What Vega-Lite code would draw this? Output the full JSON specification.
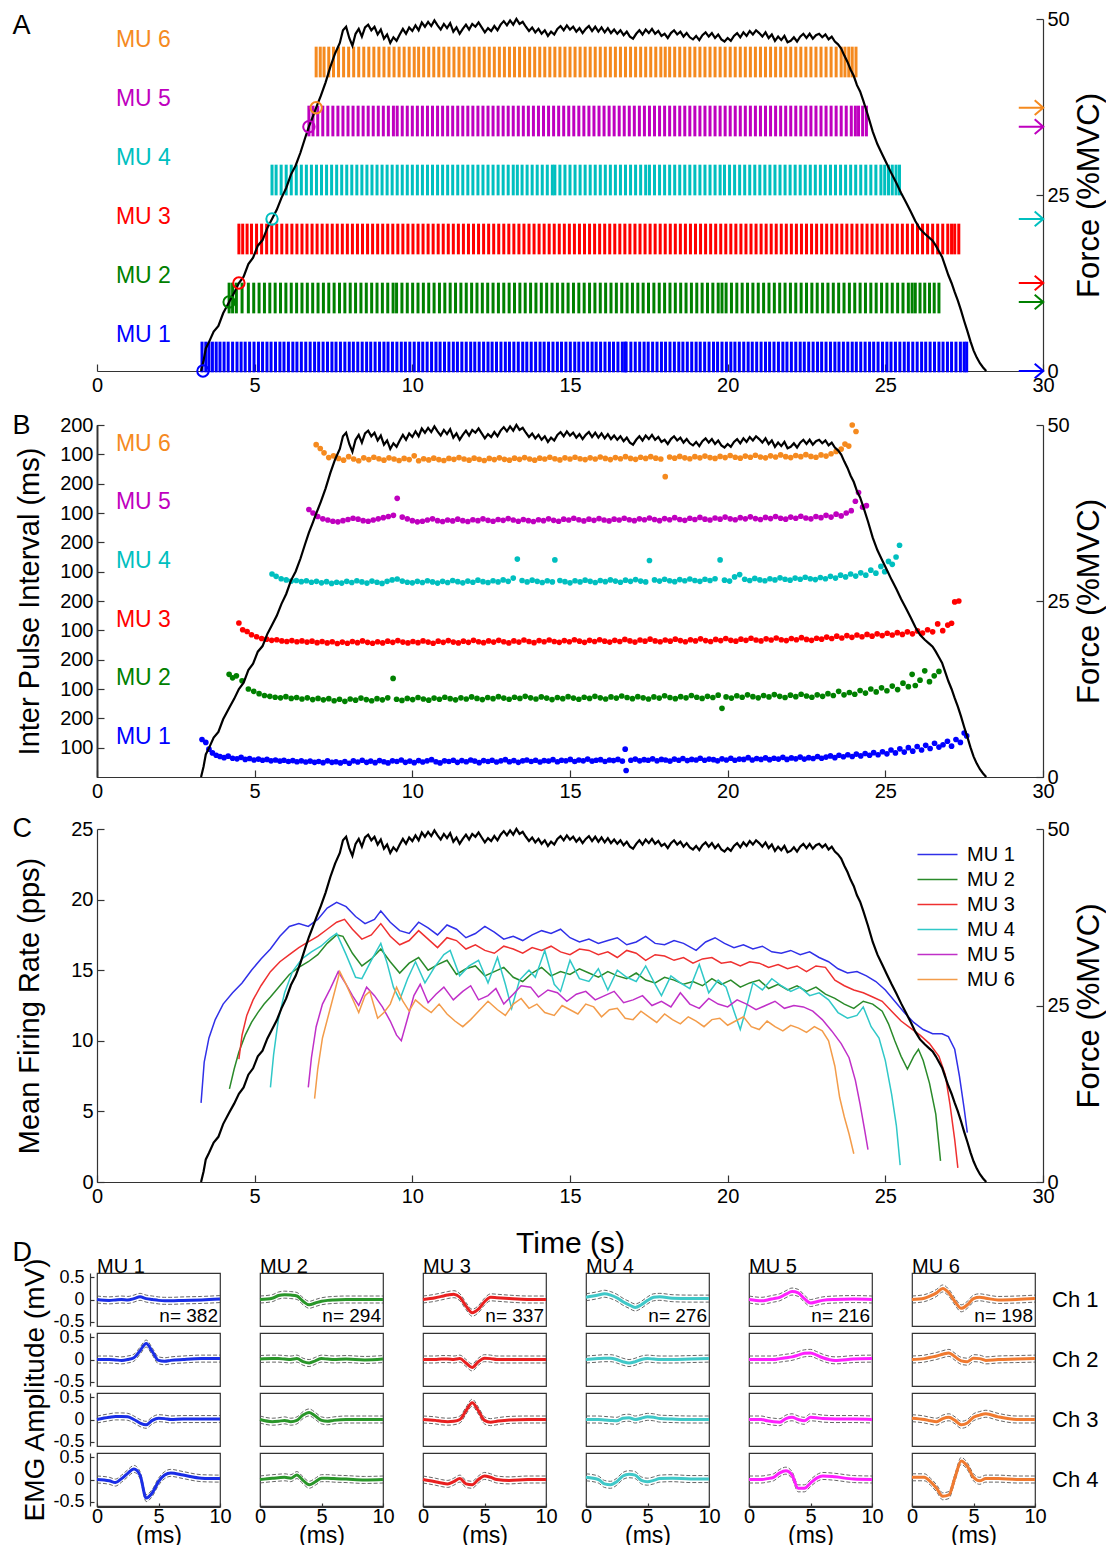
{
"$schema":"https://vega.github.io/schema/vega-lite/v6.json",
"padding":{"left":12,"top":9,"right":2,"bottom":5},
"config":{"font":"Liberation Sans","view":{"stroke":null},
"axis":{"labelFontSize":20,"titleFontSize":29,"titleFontWeight":"normal","labelColor":"#000","titleColor":"#000","domainColor":"#333","tickColor":"#333","domainWidth":1.2,"tickWidth":1.2,"tickSize":-7,"labelPadding":11,"grid":false,"labelFlush":false,"labelOverlap":false},
"legend":{"labelFontSize":20,"labelColor":"#000"},
"header":{"labelColor":"#000","titleColor":"#000"}},
"datasets":{
"force":[{"t":3.3,"f":0},{"t":3.38,"f":1.5},{"t":3.45,"f":3.2},{"t":3.55,"f":4.1},{"t":3.7,"f":5.6},{"t":3.85,"f":6.4},{"t":4.0,"f":8.2},{"t":4.19,"f":9.8},{"t":4.35,"f":11.1},{"t":4.5,"f":12.5},{"t":4.65,"f":13.4},{"t":4.8,"f":15.2},{"t":4.95,"f":16.1},{"t":5.1,"f":17.8},{"t":5.25,"f":18.6},{"t":5.4,"f":20.3},{"t":5.55,"f":21.6},{"t":5.7,"f":22.9},{"t":5.85,"f":24.6},{"t":6.0,"f":26.0},{"t":6.15,"f":27.9},{"t":6.3,"f":29.2},{"t":6.45,"f":31.0},{"t":6.6,"f":33.1},{"t":6.72,"f":34.7},{"t":6.85,"f":36.2},{"t":6.95,"f":37.4},{"t":7.1,"f":39.1},{"t":7.25,"f":41.0},{"t":7.4,"f":43.2},{"t":7.55,"f":45.1},{"t":7.7,"f":46.6},{"t":7.8,"f":48.4},{"t":7.9,"f":48.9},{"t":8.0,"f":47.3},{"t":8.1,"f":46.2},{"t":8.2,"f":47.9},{"t":8.3,"f":48.6},{"t":8.4,"f":47.5},{"t":8.5,"f":48.8},{"t":8.6,"f":49.2},{"t":8.7,"f":48.4},{"t":8.8,"f":48.9},{"t":8.9,"f":47.8},{"t":9.0,"f":48.5},{"t":9.1,"f":47.2},{"t":9.2,"f":47.8},{"t":9.3,"f":46.6},{"t":9.4,"f":47.4},{"t":9.5,"f":46.9},{"t":9.6,"f":47.8},{"t":9.7,"f":48.6},{"t":9.8,"f":47.9},{"t":9.9,"f":48.8},{"t":10.0,"f":48.3},{"t":10.1,"f":49.1},{"t":10.2,"f":48.4},{"t":10.3,"f":49.5},{"t":10.4,"f":48.9},{"t":10.5,"f":49.6},{"t":10.6,"f":49.0},{"t":10.7,"f":49.8},{"t":10.8,"f":49.1},{"t":10.9,"f":48.5},{"t":11.0,"f":49.3},{"t":11.1,"f":48.7},{"t":11.2,"f":49.4},{"t":11.3,"f":48.2},{"t":11.4,"f":48.8},{"t":11.5,"f":47.9},{"t":11.6,"f":48.6},{"t":11.7,"f":49.2},{"t":11.8,"f":48.5},{"t":11.9,"f":49.3},{"t":12.0,"f":48.9},{"t":12.1,"f":49.5},{"t":12.2,"f":48.8},{"t":12.3,"f":48.1},{"t":12.4,"f":48.7},{"t":12.5,"f":48.3},{"t":12.6,"f":49.0},{"t":12.7,"f":48.4},{"t":12.8,"f":49.2},{"t":12.9,"f":49.7},{"t":13.0,"f":49.1},{"t":13.1,"f":49.8},{"t":13.2,"f":49.2},{"t":13.3,"f":50.0},{"t":13.4,"f":49.3},{"t":13.5,"f":49.6},{"t":13.6,"f":48.9},{"t":13.7,"f":48.3},{"t":13.8,"f":48.8},{"t":13.9,"f":48.1},{"t":14.0,"f":48.6},{"t":14.1,"f":47.9},{"t":14.2,"f":48.4},{"t":14.3,"f":47.6},{"t":14.4,"f":48.2},{"t":14.5,"f":47.8},{"t":14.6,"f":48.6},{"t":14.7,"f":49.0},{"t":14.8,"f":48.4},{"t":14.9,"f":49.1},{"t":15.0,"f":48.5},{"t":15.1,"f":48.9},{"t":15.2,"f":48.2},{"t":15.3,"f":48.7},{"t":15.4,"f":48.0},{"t":15.5,"f":48.6},{"t":15.6,"f":49.0},{"t":15.7,"f":48.3},{"t":15.8,"f":48.9},{"t":15.9,"f":48.2},{"t":16.0,"f":48.8},{"t":16.1,"f":48.1},{"t":16.2,"f":48.7},{"t":16.3,"f":48.0},{"t":16.4,"f":48.5},{"t":16.5,"f":47.9},{"t":16.6,"f":48.4},{"t":16.7,"f":47.7},{"t":16.8,"f":48.2},{"t":16.9,"f":47.5},{"t":17.0,"f":47.2},{"t":17.1,"f":47.9},{"t":17.2,"f":48.4},{"t":17.3,"f":47.8},{"t":17.4,"f":48.5},{"t":17.5,"f":48.0},{"t":17.6,"f":48.6},{"t":17.7,"f":47.9},{"t":17.8,"f":48.3},{"t":17.9,"f":47.6},{"t":18.0,"f":47.9},{"t":18.1,"f":47.3},{"t":18.2,"f":48.0},{"t":18.3,"f":48.4},{"t":18.4,"f":47.8},{"t":18.5,"f":48.2},{"t":18.6,"f":47.5},{"t":18.7,"f":48.0},{"t":18.8,"f":47.4},{"t":18.9,"f":47.1},{"t":19.0,"f":47.6},{"t":19.1,"f":47.0},{"t":19.2,"f":47.7},{"t":19.3,"f":48.1},{"t":19.4,"f":47.5},{"t":19.5,"f":48.0},{"t":19.6,"f":47.3},{"t":19.7,"f":47.8},{"t":19.8,"f":47.1},{"t":19.9,"f":46.8},{"t":20.0,"f":47.3},{"t":20.1,"f":46.9},{"t":20.2,"f":47.6},{"t":20.3,"f":48.0},{"t":20.4,"f":47.4},{"t":20.5,"f":48.1},{"t":20.6,"f":47.6},{"t":20.7,"f":48.3},{"t":20.8,"f":47.8},{"t":20.9,"f":48.4},{"t":21.0,"f":48.0},{"t":21.1,"f":47.5},{"t":21.2,"f":48.1},{"t":21.3,"f":47.3},{"t":21.4,"f":47.8},{"t":21.5,"f":46.9},{"t":21.6,"f":47.5},{"t":21.7,"f":47.0},{"t":21.8,"f":47.6},{"t":21.9,"f":46.7},{"t":22.0,"f":46.9},{"t":22.1,"f":47.4},{"t":22.2,"f":46.8},{"t":22.3,"f":47.5},{"t":22.4,"f":47.9},{"t":22.5,"f":47.3},{"t":22.6,"f":47.9},{"t":22.7,"f":47.2},{"t":22.8,"f":47.7},{"t":22.9,"f":47.9},{"t":23.0,"f":47.4},{"t":23.1,"f":47.8},{"t":23.2,"f":47.1},{"t":23.3,"f":47.5},{"t":23.4,"f":46.8},{"t":23.5,"f":46.4},{"t":23.6,"f":45.8},{"t":23.7,"f":44.8},{"t":23.8,"f":43.9},{"t":23.9,"f":42.8},{"t":24.0,"f":41.9},{"t":24.1,"f":40.6},{"t":24.2,"f":39.7},{"t":24.3,"f":38.4},{"t":24.45,"f":36.3},{"t":24.6,"f":34.0},{"t":24.75,"f":32.2},{"t":24.9,"f":30.8},{"t":25.05,"f":29.4},{"t":25.2,"f":28.0},{"t":25.35,"f":26.7},{"t":25.5,"f":25.3},{"t":25.65,"f":24.0},{"t":25.8,"f":22.7},{"t":25.95,"f":21.3},{"t":26.1,"f":20.2},{"t":26.25,"f":19.5},{"t":26.4,"f":18.9},{"t":26.5,"f":18.5},{"t":26.6,"f":17.8},{"t":26.7,"f":17.0},{"t":26.8,"f":16.2},{"t":26.9,"f":14.9},{"t":27.0,"f":13.6},{"t":27.1,"f":12.5},{"t":27.2,"f":11.2},{"t":27.3,"f":10.0},{"t":27.4,"f":8.6},{"t":27.5,"f":7.1},{"t":27.6,"f":5.7},{"t":27.7,"f":4.2},{"t":27.8,"f":2.9},{"t":27.9,"f":1.9},{"t":28.0,"f":1.1},{"t":28.1,"f":0.5},{"t":28.2,"f":0}],
"rec":[{"m":"MU 1","t":3.36,"f":0},{"m":"MU 2","t":4.19,"f":9.8},{"m":"MU 3","t":4.5,"f":12.5},{"m":"MU 4","t":5.55,"f":21.6},{"m":"MU 5","t":6.72,"f":34.7},{"m":"MU 6","t":6.95,"f":37.4}],
"s1":[{"t":3.33,"i":128},{"t":3.45,"i":118},{"t":3.55,"i":95},{"t":3.66,"i":82},{"t":3.78,"i":74},{"t":3.9,"i":70},{"t":4.03,"i":66},{"t":4.16,"i":71},{"t":4.3,"i":64},{"t":4.44,"i":62},{"t":4.57,"i":67},{"t":4.7,"i":60},{"t":4.84,"i":63},{"t":4.98,"i":58},{"t":5.12,"i":61},{"t":5.25,"i":57},{"t":5.39,"i":60},{"t":5.52,"i":55},{"t":5.66,"i":58},{"t":5.8,"i":54},{"t":5.93,"i":57},{"t":6.07,"i":53},{"t":6.21,"i":56},{"t":6.34,"i":52},{"t":6.48,"i":55},{"t":6.62,"i":51},{"t":6.76,"i":54},{"t":6.9,"i":50},{"t":7.03,"i":53},{"t":7.17,"i":49},{"t":7.31,"i":55},{"t":7.45,"i":50},{"t":7.58,"i":52},{"t":7.72,"i":48},{"t":7.86,"i":53},{"t":8.0,"i":47},{"t":8.13,"i":55},{"t":8.27,"i":51},{"t":8.41,"i":57},{"t":8.55,"i":50},{"t":8.68,"i":54},{"t":8.82,"i":49},{"t":8.96,"i":56},{"t":9.1,"i":52},{"t":9.23,"i":48},{"t":9.37,"i":55},{"t":9.51,"i":53},{"t":9.65,"i":58},{"t":9.78,"i":50},{"t":9.92,"i":54},{"t":10.06,"i":49},{"t":10.2,"i":56},{"t":10.33,"i":51},{"t":10.47,"i":55},{"t":10.61,"i":59},{"t":10.75,"i":52},{"t":10.88,"i":48},{"t":11.02,"i":55},{"t":11.16,"i":53},{"t":11.3,"i":57},{"t":11.43,"i":50},{"t":11.57,"i":56},{"t":11.71,"i":52},{"t":11.85,"i":58},{"t":11.98,"i":54},{"t":12.12,"i":49},{"t":12.26,"i":56},{"t":12.4,"i":53},{"t":12.53,"i":57},{"t":12.67,"i":51},{"t":12.81,"i":55},{"t":12.95,"i":59},{"t":13.08,"i":52},{"t":13.22,"i":56},{"t":13.36,"i":50},{"t":13.5,"i":55},{"t":13.63,"i":58},{"t":13.77,"i":53},{"t":13.91,"i":57},{"t":14.05,"i":51},{"t":14.18,"i":56},{"t":14.32,"i":54},{"t":14.46,"i":59},{"t":14.6,"i":52},{"t":14.73,"i":57},{"t":14.87,"i":55},{"t":15.01,"i":60},{"t":15.15,"i":53},{"t":15.28,"i":58},{"t":15.42,"i":55},{"t":15.56,"i":61},{"t":15.7,"i":54},{"t":15.83,"i":57},{"t":15.97,"i":59},{"t":16.11,"i":53},{"t":16.25,"i":58},{"t":16.38,"i":56},{"t":16.52,"i":60},{"t":16.66,"i":54},{"t":16.75,"i":95},{"t":16.78,"i":22},{"t":16.93,"i":57},{"t":17.07,"i":61},{"t":17.21,"i":55},{"t":17.35,"i":59},{"t":17.48,"i":57},{"t":17.62,"i":62},{"t":17.76,"i":55},{"t":17.9,"i":60},{"t":18.03,"i":58},{"t":18.17,"i":54},{"t":18.31,"i":61},{"t":18.45,"i":57},{"t":18.58,"i":63},{"t":18.72,"i":56},{"t":18.86,"i":60},{"t":19.0,"i":58},{"t":19.13,"i":64},{"t":19.27,"i":57},{"t":19.41,"i":61},{"t":19.55,"i":59},{"t":19.68,"i":55},{"t":19.82,"i":62},{"t":19.96,"i":58},{"t":20.1,"i":64},{"t":20.23,"i":57},{"t":20.37,"i":61},{"t":20.51,"i":60},{"t":20.65,"i":66},{"t":20.78,"i":58},{"t":20.92,"i":63},{"t":21.06,"i":60},{"t":21.2,"i":65},{"t":21.33,"i":59},{"t":21.47,"i":64},{"t":21.61,"i":61},{"t":21.75,"i":67},{"t":21.88,"i":60},{"t":22.02,"i":65},{"t":22.16,"i":62},{"t":22.3,"i":68},{"t":22.43,"i":61},{"t":22.57,"i":66},{"t":22.71,"i":63},{"t":22.85,"i":70},{"t":22.98,"i":64},{"t":23.12,"i":68},{"t":23.26,"i":72},{"t":23.4,"i":66},{"t":23.53,"i":74},{"t":23.67,"i":69},{"t":23.81,"i":76},{"t":23.95,"i":70},{"t":24.08,"i":78},{"t":24.22,"i":72},{"t":24.36,"i":80},{"t":24.5,"i":74},{"t":24.63,"i":83},{"t":24.77,"i":76},{"t":24.91,"i":86},{"t":25.05,"i":79},{"t":25.18,"i":92},{"t":25.32,"i":82},{"t":25.46,"i":96},{"t":25.6,"i":85},{"t":25.73,"i":100},{"t":25.87,"i":88},{"t":26.01,"i":104},{"t":26.15,"i":92},{"t":26.28,"i":108},{"t":26.42,"i":97},{"t":26.56,"i":115},{"t":26.7,"i":102},{"t":26.83,"i":110},{"t":26.97,"i":122},{"t":27.1,"i":105},{"t":27.24,"i":128},{"t":27.38,"i":118},{"t":27.5,"i":150},{"t":27.58,"i":140}],
"s2":[{"t":4.19,"i":150},{"t":4.3,"i":138},{"t":4.42,"i":145},{"t":4.6,"i":128},{"t":4.8,"i":100},{"t":4.97,"i":92},{"t":5.14,"i":84},{"t":5.31,"i":78},{"t":5.48,"i":75},{"t":5.65,"i":72},{"t":5.82,"i":70},{"t":5.99,"i":74},{"t":6.16,"i":68},{"t":6.33,"i":71},{"t":6.5,"i":66},{"t":6.67,"i":70},{"t":6.84,"i":64},{"t":7.01,"i":68},{"t":7.18,"i":63},{"t":7.35,"i":67},{"t":7.52,"i":60},{"t":7.69,"i":65},{"t":7.86,"i":58},{"t":8.03,"i":66},{"t":8.2,"i":62},{"t":8.37,"i":69},{"t":8.54,"i":64},{"t":8.71,"i":60},{"t":8.88,"i":67},{"t":9.05,"i":63},{"t":9.22,"i":70},{"t":9.39,"i":136},{"t":9.5,"i":65},{"t":9.67,"i":61},{"t":9.84,"i":68},{"t":10.01,"i":64},{"t":10.18,"i":71},{"t":10.35,"i":66},{"t":10.52,"i":62},{"t":10.69,"i":69},{"t":10.86,"i":65},{"t":11.03,"i":72},{"t":11.2,"i":67},{"t":11.37,"i":63},{"t":11.54,"i":70},{"t":11.71,"i":66},{"t":11.88,"i":73},{"t":12.05,"i":68},{"t":12.22,"i":64},{"t":12.39,"i":71},{"t":12.56,"i":67},{"t":12.73,"i":74},{"t":12.9,"i":69},{"t":13.07,"i":65},{"t":13.24,"i":72},{"t":13.41,"i":68},{"t":13.58,"i":75},{"t":13.75,"i":70},{"t":13.92,"i":66},{"t":14.09,"i":73},{"t":14.26,"i":69},{"t":14.43,"i":64},{"t":14.6,"i":71},{"t":14.77,"i":67},{"t":14.94,"i":74},{"t":15.11,"i":69},{"t":15.28,"i":65},{"t":15.45,"i":72},{"t":15.62,"i":68},{"t":15.79,"i":75},{"t":15.96,"i":70},{"t":16.13,"i":66},{"t":16.3,"i":73},{"t":16.47,"i":69},{"t":16.64,"i":76},{"t":16.81,"i":71},{"t":16.98,"i":67},{"t":17.15,"i":74},{"t":17.32,"i":70},{"t":17.49,"i":66},{"t":17.66,"i":73},{"t":17.83,"i":69},{"t":18.0,"i":77},{"t":18.17,"i":71},{"t":18.34,"i":67},{"t":18.51,"i":74},{"t":18.68,"i":70},{"t":18.85,"i":78},{"t":19.02,"i":72},{"t":19.19,"i":68},{"t":19.36,"i":75},{"t":19.53,"i":71},{"t":19.7,"i":79},{"t":19.82,"i":34},{"t":19.95,"i":73},{"t":20.12,"i":69},{"t":20.29,"i":77},{"t":20.46,"i":72},{"t":20.63,"i":80},{"t":20.8,"i":74},{"t":20.97,"i":70},{"t":21.14,"i":78},{"t":21.31,"i":73},{"t":21.48,"i":81},{"t":21.65,"i":75},{"t":21.82,"i":71},{"t":21.99,"i":79},{"t":22.16,"i":74},{"t":22.33,"i":82},{"t":22.5,"i":76},{"t":22.67,"i":72},{"t":22.84,"i":80},{"t":23.01,"i":75},{"t":23.18,"i":84},{"t":23.35,"i":78},{"t":23.52,"i":92},{"t":23.69,"i":80},{"t":23.86,"i":88},{"t":24.03,"i":82},{"t":24.2,"i":95},{"t":24.37,"i":86},{"t":24.54,"i":100},{"t":24.71,"i":90},{"t":24.88,"i":104},{"t":25.05,"i":94},{"t":25.22,"i":110},{"t":25.39,"i":98},{"t":25.56,"i":120},{"t":25.73,"i":108},{"t":25.85,"i":150},{"t":25.95,"i":112},{"t":26.1,"i":130},{"t":26.25,"i":162},{"t":26.4,"i":125},{"t":26.55,"i":145},{"t":26.7,"i":160}],
"s3":[{"t":4.5,"i":125},{"t":4.62,"i":102},{"t":4.76,"i":96},{"t":4.9,"i":85},{"t":5.06,"i":78},{"t":5.22,"i":72},{"t":5.38,"i":70},{"t":5.54,"i":66},{"t":5.7,"i":68},{"t":5.86,"i":64},{"t":6.02,"i":62},{"t":6.18,"i":65},{"t":6.34,"i":61},{"t":6.5,"i":64},{"t":6.66,"i":60},{"t":6.82,"i":63},{"t":6.98,"i":58},{"t":7.14,"i":62},{"t":7.3,"i":57},{"t":7.46,"i":61},{"t":7.62,"i":55},{"t":7.78,"i":60},{"t":7.94,"i":56},{"t":8.1,"i":62},{"t":8.26,"i":58},{"t":8.42,"i":64},{"t":8.58,"i":59},{"t":8.74,"i":56},{"t":8.9,"i":61},{"t":9.06,"i":57},{"t":9.22,"i":63},{"t":9.38,"i":59},{"t":9.54,"i":65},{"t":9.7,"i":60},{"t":9.86,"i":57},{"t":10.02,"i":62},{"t":10.18,"i":58},{"t":10.34,"i":64},{"t":10.5,"i":60},{"t":10.66,"i":56},{"t":10.82,"i":63},{"t":10.98,"i":59},{"t":11.14,"i":65},{"t":11.3,"i":60},{"t":11.46,"i":57},{"t":11.62,"i":63},{"t":11.78,"i":59},{"t":11.94,"i":66},{"t":12.1,"i":61},{"t":12.26,"i":58},{"t":12.42,"i":64},{"t":12.58,"i":60},{"t":12.74,"i":66},{"t":12.9,"i":61},{"t":13.06,"i":57},{"t":13.22,"i":64},{"t":13.38,"i":60},{"t":13.54,"i":67},{"t":13.7,"i":62},{"t":13.86,"i":58},{"t":14.02,"i":65},{"t":14.18,"i":61},{"t":14.34,"i":67},{"t":14.5,"i":62},{"t":14.66,"i":59},{"t":14.82,"i":65},{"t":14.98,"i":61},{"t":15.14,"i":68},{"t":15.3,"i":63},{"t":15.46,"i":59},{"t":15.62,"i":66},{"t":15.78,"i":62},{"t":15.94,"i":68},{"t":16.1,"i":63},{"t":16.26,"i":60},{"t":16.42,"i":66},{"t":16.58,"i":62},{"t":16.74,"i":69},{"t":16.9,"i":64},{"t":17.06,"i":60},{"t":17.22,"i":67},{"t":17.38,"i":63},{"t":17.54,"i":70},{"t":17.7,"i":64},{"t":17.86,"i":61},{"t":18.02,"i":67},{"t":18.18,"i":63},{"t":18.34,"i":70},{"t":18.5,"i":65},{"t":18.66,"i":61},{"t":18.82,"i":68},{"t":18.98,"i":64},{"t":19.14,"i":71},{"t":19.3,"i":65},{"t":19.46,"i":62},{"t":19.62,"i":69},{"t":19.78,"i":65},{"t":19.94,"i":72},{"t":20.1,"i":66},{"t":20.26,"i":63},{"t":20.42,"i":70},{"t":20.58,"i":66},{"t":20.74,"i":73},{"t":20.9,"i":67},{"t":21.06,"i":64},{"t":21.22,"i":71},{"t":21.38,"i":67},{"t":21.54,"i":74},{"t":21.7,"i":68},{"t":21.86,"i":65},{"t":22.02,"i":72},{"t":22.18,"i":68},{"t":22.34,"i":75},{"t":22.5,"i":69},{"t":22.66,"i":66},{"t":22.82,"i":73},{"t":22.98,"i":70},{"t":23.14,"i":77},{"t":23.3,"i":72},{"t":23.46,"i":80},{"t":23.62,"i":74},{"t":23.78,"i":82},{"t":23.94,"i":76},{"t":24.1,"i":84},{"t":24.26,"i":78},{"t":24.42,"i":86},{"t":24.58,"i":80},{"t":24.74,"i":88},{"t":24.9,"i":82},{"t":25.06,"i":90},{"t":25.22,"i":84},{"t":25.38,"i":92},{"t":25.54,"i":86},{"t":25.7,"i":95},{"t":25.86,"i":88},{"t":26.02,"i":98},{"t":26.18,"i":91},{"t":26.34,"i":102},{"t":26.5,"i":95},{"t":26.66,"i":122},{"t":26.82,"i":99},{"t":26.98,"i":118},{"t":27.1,"i":124},{"t":27.2,"i":197},{"t":27.33,"i":200}],
"s4":[{"t":5.55,"i":92},{"t":5.68,"i":84},{"t":5.84,"i":76},{"t":6.0,"i":72},{"t":6.16,"i":68},{"t":6.32,"i":70},{"t":6.48,"i":66},{"t":6.64,"i":69},{"t":6.8,"i":64},{"t":6.96,"i":67},{"t":7.12,"i":62},{"t":7.28,"i":66},{"t":7.44,"i":60},{"t":7.6,"i":64},{"t":7.76,"i":61},{"t":7.92,"i":67},{"t":8.08,"i":63},{"t":8.24,"i":69},{"t":8.4,"i":65},{"t":8.56,"i":61},{"t":8.72,"i":68},{"t":8.88,"i":64},{"t":9.04,"i":60},{"t":9.2,"i":67},{"t":9.36,"i":72},{"t":9.52,"i":75},{"t":9.68,"i":68},{"t":9.84,"i":64},{"t":10.0,"i":62},{"t":10.16,"i":67},{"t":10.32,"i":63},{"t":10.48,"i":69},{"t":10.64,"i":65},{"t":10.8,"i":61},{"t":10.96,"i":67},{"t":11.12,"i":63},{"t":11.28,"i":70},{"t":11.44,"i":66},{"t":11.6,"i":62},{"t":11.76,"i":68},{"t":11.92,"i":64},{"t":12.08,"i":71},{"t":12.24,"i":66},{"t":12.4,"i":63},{"t":12.56,"i":69},{"t":12.72,"i":65},{"t":12.88,"i":72},{"t":13.04,"i":67},{"t":13.2,"i":78},{"t":13.33,"i":143},{"t":13.48,"i":70},{"t":13.64,"i":65},{"t":13.8,"i":71},{"t":13.96,"i":67},{"t":14.12,"i":63},{"t":14.28,"i":69},{"t":14.44,"i":65},{"t":14.52,"i":140},{"t":14.68,"i":70},{"t":14.84,"i":66},{"t":15.0,"i":62},{"t":15.16,"i":69},{"t":15.32,"i":65},{"t":15.48,"i":71},{"t":15.64,"i":67},{"t":15.8,"i":63},{"t":15.96,"i":70},{"t":16.12,"i":66},{"t":16.28,"i":72},{"t":16.44,"i":68},{"t":16.6,"i":64},{"t":16.76,"i":71},{"t":16.92,"i":67},{"t":17.08,"i":73},{"t":17.24,"i":68},{"t":17.4,"i":65},{"t":17.52,"i":138},{"t":17.68,"i":72},{"t":17.84,"i":68},{"t":18.0,"i":74},{"t":18.16,"i":69},{"t":18.32,"i":66},{"t":18.48,"i":73},{"t":18.64,"i":69},{"t":18.8,"i":75},{"t":18.96,"i":70},{"t":19.12,"i":67},{"t":19.28,"i":74},{"t":19.44,"i":70},{"t":19.6,"i":76},{"t":19.76,"i":140},{"t":19.9,"i":71},{"t":20.06,"i":68},{"t":20.22,"i":82},{"t":20.38,"i":90},{"t":20.54,"i":74},{"t":20.7,"i":70},{"t":20.86,"i":77},{"t":21.02,"i":72},{"t":21.18,"i":69},{"t":21.34,"i":76},{"t":21.5,"i":72},{"t":21.66,"i":79},{"t":21.82,"i":74},{"t":21.98,"i":71},{"t":22.14,"i":78},{"t":22.3,"i":74},{"t":22.46,"i":81},{"t":22.62,"i":76},{"t":22.78,"i":73},{"t":22.94,"i":80},{"t":23.1,"i":76},{"t":23.26,"i":84},{"t":23.42,"i":78},{"t":23.58,"i":88},{"t":23.74,"i":82},{"t":23.9,"i":92},{"t":24.06,"i":85},{"t":24.22,"i":96},{"t":24.38,"i":88},{"t":24.54,"i":105},{"t":24.7,"i":95},{"t":24.86,"i":118},{"t":24.98,"i":100},{"t":25.1,"i":135},{"t":25.22,"i":125},{"t":25.34,"i":150},{"t":25.45,"i":190}],
"s5":[{"t":6.72,"i":112},{"t":6.85,"i":100},{"t":7.0,"i":88},{"t":7.16,"i":80},{"t":7.32,"i":76},{"t":7.48,"i":72},{"t":7.64,"i":70},{"t":7.8,"i":74},{"t":7.96,"i":78},{"t":8.12,"i":82},{"t":8.28,"i":79},{"t":8.44,"i":74},{"t":8.6,"i":72},{"t":8.76,"i":76},{"t":8.92,"i":80},{"t":9.08,"i":84},{"t":9.24,"i":88},{"t":9.4,"i":92},{"t":9.52,"i":150},{"t":9.68,"i":86},{"t":9.84,"i":80},{"t":10.0,"i":74},{"t":10.16,"i":70},{"t":10.32,"i":72},{"t":10.48,"i":76},{"t":10.64,"i":80},{"t":10.8,"i":74},{"t":10.96,"i":71},{"t":11.12,"i":76},{"t":11.28,"i":73},{"t":11.44,"i":79},{"t":11.6,"i":74},{"t":11.76,"i":71},{"t":11.92,"i":77},{"t":12.08,"i":74},{"t":12.24,"i":80},{"t":12.4,"i":75},{"t":12.56,"i":72},{"t":12.72,"i":78},{"t":12.88,"i":75},{"t":13.04,"i":81},{"t":13.2,"i":76},{"t":13.36,"i":72},{"t":13.52,"i":78},{"t":13.68,"i":74},{"t":13.84,"i":71},{"t":14.0,"i":77},{"t":14.16,"i":74},{"t":14.32,"i":80},{"t":14.48,"i":75},{"t":14.64,"i":72},{"t":14.8,"i":79},{"t":14.96,"i":76},{"t":15.12,"i":82},{"t":15.28,"i":77},{"t":15.44,"i":73},{"t":15.6,"i":79},{"t":15.76,"i":75},{"t":15.92,"i":81},{"t":16.08,"i":76},{"t":16.24,"i":73},{"t":16.4,"i":79},{"t":16.56,"i":76},{"t":16.72,"i":82},{"t":16.88,"i":77},{"t":17.04,"i":74},{"t":17.2,"i":80},{"t":17.36,"i":77},{"t":17.52,"i":83},{"t":17.68,"i":78},{"t":17.84,"i":74},{"t":18.0,"i":81},{"t":18.16,"i":77},{"t":18.32,"i":84},{"t":18.48,"i":78},{"t":18.64,"i":75},{"t":18.8,"i":82},{"t":18.96,"i":78},{"t":19.12,"i":85},{"t":19.28,"i":79},{"t":19.44,"i":76},{"t":19.6,"i":83},{"t":19.76,"i":79},{"t":19.92,"i":86},{"t":20.08,"i":80},{"t":20.24,"i":77},{"t":20.4,"i":84},{"t":20.56,"i":80},{"t":20.72,"i":87},{"t":20.88,"i":81},{"t":21.04,"i":78},{"t":21.2,"i":85},{"t":21.36,"i":81},{"t":21.52,"i":88},{"t":21.68,"i":82},{"t":21.84,"i":79},{"t":22.0,"i":86},{"t":22.16,"i":82},{"t":22.32,"i":89},{"t":22.48,"i":83},{"t":22.64,"i":80},{"t":22.8,"i":88},{"t":22.96,"i":84},{"t":23.12,"i":92},{"t":23.28,"i":86},{"t":23.44,"i":96},{"t":23.6,"i":90},{"t":23.76,"i":100},{"t":23.92,"i":108},{"t":24.05,"i":140},{"t":24.15,"i":170},{"t":24.28,"i":120},{"t":24.4,"i":125}],
"s6":[{"t":6.95,"i":133},{"t":7.08,"i":120},{"t":7.2,"i":105},{"t":7.35,"i":89},{"t":7.5,"i":95},{"t":7.66,"i":86},{"t":7.82,"i":80},{"t":7.98,"i":92},{"t":8.14,"i":84},{"t":8.3,"i":78},{"t":8.46,"i":88},{"t":8.62,"i":82},{"t":8.78,"i":90},{"t":8.94,"i":85},{"t":9.1,"i":80},{"t":9.26,"i":88},{"t":9.42,"i":84},{"t":9.58,"i":79},{"t":9.74,"i":86},{"t":9.9,"i":82},{"t":10.06,"i":95},{"t":10.2,"i":78},{"t":10.36,"i":85},{"t":10.52,"i":81},{"t":10.68,"i":87},{"t":10.84,"i":82},{"t":11.0,"i":79},{"t":11.16,"i":86},{"t":11.32,"i":83},{"t":11.48,"i":89},{"t":11.64,"i":84},{"t":11.8,"i":80},{"t":11.96,"i":87},{"t":12.12,"i":83},{"t":12.28,"i":79},{"t":12.44,"i":86},{"t":12.6,"i":82},{"t":12.76,"i":88},{"t":12.92,"i":83},{"t":13.08,"i":80},{"t":13.24,"i":87},{"t":13.4,"i":83},{"t":13.56,"i":89},{"t":13.72,"i":84},{"t":13.88,"i":80},{"t":14.04,"i":87},{"t":14.2,"i":84},{"t":14.36,"i":90},{"t":14.52,"i":85},{"t":14.68,"i":81},{"t":14.84,"i":88},{"t":15.0,"i":84},{"t":15.16,"i":90},{"t":15.32,"i":85},{"t":15.48,"i":82},{"t":15.64,"i":88},{"t":15.8,"i":84},{"t":15.96,"i":91},{"t":16.12,"i":86},{"t":16.28,"i":82},{"t":16.44,"i":89},{"t":16.6,"i":85},{"t":16.76,"i":92},{"t":16.92,"i":86},{"t":17.08,"i":83},{"t":17.24,"i":90},{"t":17.4,"i":86},{"t":17.56,"i":92},{"t":17.72,"i":87},{"t":17.88,"i":84},{"t":18.02,"i":24},{"t":18.16,"i":91},{"t":18.32,"i":87},{"t":18.48,"i":93},{"t":18.64,"i":88},{"t":18.8,"i":85},{"t":18.96,"i":92},{"t":19.12,"i":88},{"t":19.28,"i":94},{"t":19.44,"i":89},{"t":19.6,"i":86},{"t":19.76,"i":93},{"t":19.92,"i":89},{"t":20.08,"i":96},{"t":20.24,"i":90},{"t":20.4,"i":87},{"t":20.56,"i":94},{"t":20.72,"i":90},{"t":20.88,"i":97},{"t":21.04,"i":91},{"t":21.2,"i":88},{"t":21.36,"i":95},{"t":21.52,"i":91},{"t":21.68,"i":98},{"t":21.84,"i":92},{"t":22.0,"i":89},{"t":22.16,"i":96},{"t":22.32,"i":92},{"t":22.48,"i":99},{"t":22.64,"i":93},{"t":22.8,"i":90},{"t":22.96,"i":98},{"t":23.12,"i":94},{"t":23.28,"i":102},{"t":23.44,"i":110},{"t":23.6,"i":118},{"t":23.72,"i":135},{"t":23.84,"i":128},{"t":23.95,"i":200},{"t":24.07,"i":178}],
"r1":[{"t":3.3,"r":5.6},{"t":3.4,"r":8.5},{"t":3.55,"r":10.2},{"t":3.75,"r":11.5},{"t":4.0,"r":12.6},{"t":4.3,"r":13.4},{"t":4.6,"r":14.1},{"t":4.9,"r":15.0},{"t":5.2,"r":15.8},{"t":5.5,"r":16.5},{"t":5.8,"r":17.4},{"t":6.1,"r":18.1},{"t":6.4,"r":18.3},{"t":6.7,"r":18.1},{"t":7.0,"r":18.6},{"t":7.3,"r":19.4},{"t":7.6,"r":19.8},{"t":7.9,"r":19.5},{"t":8.2,"r":18.8},{"t":8.5,"r":18.3},{"t":8.8,"r":18.6},{"t":9.0,"r":19.2},{"t":9.3,"r":18.4},{"t":9.6,"r":17.8},{"t":9.9,"r":17.6},{"t":10.2,"r":18.4},{"t":10.5,"r":18.0},{"t":10.8,"r":17.5},{"t":11.1,"r":18.2},{"t":11.4,"r":17.9},{"t":11.7,"r":17.3},{"t":12.0,"r":17.6},{"t":12.3,"r":18.1},{"t":12.6,"r":17.7},{"t":12.9,"r":17.2},{"t":13.2,"r":17.4},{"t":13.5,"r":17.1},{"t":13.8,"r":17.5},{"t":14.1,"r":17.8},{"t":14.4,"r":17.6},{"t":14.7,"r":17.9},{"t":15.0,"r":17.3},{"t":15.3,"r":17.0},{"t":15.6,"r":17.2},{"t":15.9,"r":16.9},{"t":16.2,"r":17.1},{"t":16.5,"r":17.3},{"t":16.8,"r":16.8},{"t":17.1,"r":17.0},{"t":17.4,"r":17.4},{"t":17.7,"r":16.9},{"t":18.0,"r":16.8},{"t":18.3,"r":17.1},{"t":18.6,"r":16.9},{"t":19.0,"r":16.4},{"t":19.3,"r":17.0},{"t":19.6,"r":17.3},{"t":19.9,"r":16.9},{"t":20.2,"r":16.6},{"t":20.5,"r":16.8},{"t":20.8,"r":16.5},{"t":21.1,"r":16.7},{"t":21.4,"r":16.3},{"t":21.7,"r":16.2},{"t":22.0,"r":16.4},{"t":22.3,"r":16.1},{"t":22.6,"r":16.3},{"t":22.9,"r":15.9},{"t":23.2,"r":15.6},{"t":23.5,"r":15.1},{"t":23.8,"r":14.8},{"t":24.1,"r":14.9},{"t":24.4,"r":14.6},{"t":24.7,"r":14.2},{"t":25.0,"r":13.6},{"t":25.3,"r":12.8},{"t":25.6,"r":12.0},{"t":25.9,"r":11.3},{"t":26.2,"r":10.8},{"t":26.5,"r":10.5},{"t":26.8,"r":10.5},{"t":27.0,"r":10.3},{"t":27.2,"r":9.4},{"t":27.35,"r":7.5},{"t":27.5,"r":5.2},{"t":27.6,"r":3.5}],
"r2":[{"t":4.2,"r":6.6},{"t":4.35,"r":8.0},{"t":4.5,"r":9.2},{"t":4.7,"r":10.4},{"t":4.9,"r":11.3},{"t":5.1,"r":12.0},{"t":5.3,"r":12.6},{"t":5.5,"r":13.1},{"t":5.8,"r":13.9},{"t":6.1,"r":14.7},{"t":6.4,"r":15.2},{"t":6.7,"r":15.6},{"t":7.0,"r":16.1},{"t":7.3,"r":16.9},{"t":7.6,"r":17.5},{"t":7.8,"r":17.4},{"t":8.1,"r":16.2},{"t":8.4,"r":15.3},{"t":8.7,"r":15.8},{"t":9.0,"r":16.5},{"t":9.3,"r":15.6},{"t":9.6,"r":14.8},{"t":9.9,"r":15.5},{"t":10.2,"r":15.9},{"t":10.5,"r":15.0},{"t":10.8,"r":15.4},{"t":11.1,"r":15.7},{"t":11.4,"r":14.7},{"t":11.7,"r":15.1},{"t":12.0,"r":15.3},{"t":12.3,"r":14.6},{"t":12.6,"r":14.9},{"t":12.9,"r":15.2},{"t":13.2,"r":14.5},{"t":13.5,"r":14.2},{"t":13.8,"r":14.8},{"t":14.1,"r":15.2},{"t":14.4,"r":14.6},{"t":14.7,"r":14.9},{"t":15.0,"r":14.7},{"t":15.3,"r":15.1},{"t":15.6,"r":14.8},{"t":15.9,"r":14.5},{"t":16.2,"r":14.9},{"t":16.5,"r":14.6},{"t":16.8,"r":14.4},{"t":17.1,"r":14.8},{"t":17.4,"r":14.3},{"t":17.7,"r":14.1},{"t":18.0,"r":14.5},{"t":18.3,"r":14.3},{"t":18.6,"r":14.0},{"t":18.9,"r":14.2},{"t":19.2,"r":13.9},{"t":19.5,"r":14.4},{"t":19.8,"r":14.0},{"t":20.1,"r":14.3},{"t":20.4,"r":13.8},{"t":20.7,"r":14.1},{"t":21.0,"r":14.3},{"t":21.3,"r":13.7},{"t":21.6,"r":14.0},{"t":21.9,"r":13.6},{"t":22.2,"r":13.9},{"t":22.5,"r":13.5},{"t":22.8,"r":13.8},{"t":23.1,"r":13.3},{"t":23.4,"r":13.0},{"t":23.7,"r":12.6},{"t":24.0,"r":12.3},{"t":24.3,"r":12.8},{"t":24.6,"r":12.6},{"t":24.9,"r":12.1},{"t":25.1,"r":11.2},{"t":25.3,"r":10.0},{"t":25.5,"r":8.9},{"t":25.7,"r":8.0},{"t":25.9,"r":8.9},{"t":26.05,"r":9.4},{"t":26.2,"r":8.6},{"t":26.4,"r":7.0},{"t":26.6,"r":4.8},{"t":26.75,"r":1.5}],
"r3":[{"t":4.5,"r":8.7},{"t":4.6,"r":10.4},{"t":4.75,"r":11.8},{"t":4.95,"r":12.9},{"t":5.2,"r":13.9},{"t":5.5,"r":14.9},{"t":5.8,"r":15.6},{"t":6.1,"r":16.1},{"t":6.4,"r":16.6},{"t":6.7,"r":17.0},{"t":7.0,"r":17.4},{"t":7.3,"r":17.9},{"t":7.6,"r":18.4},{"t":7.85,"r":18.6},{"t":8.1,"r":17.9},{"t":8.4,"r":17.2},{"t":8.7,"r":17.5},{"t":9.0,"r":18.3},{"t":9.3,"r":17.4},{"t":9.6,"r":16.8},{"t":9.9,"r":17.1},{"t":10.2,"r":17.8},{"t":10.5,"r":17.2},{"t":10.8,"r":16.6},{"t":11.1,"r":17.3},{"t":11.4,"r":17.1},{"t":11.7,"r":16.5},{"t":12.0,"r":16.8},{"t":12.3,"r":16.4},{"t":12.6,"r":16.2},{"t":12.9,"r":16.7},{"t":13.2,"r":16.5},{"t":13.5,"r":16.2},{"t":13.8,"r":16.6},{"t":14.1,"r":16.4},{"t":14.4,"r":16.7},{"t":14.7,"r":16.3},{"t":15.0,"r":16.1},{"t":15.3,"r":16.5},{"t":15.6,"r":16.4},{"t":15.9,"r":16.1},{"t":16.2,"r":16.3},{"t":16.5,"r":15.9},{"t":16.8,"r":16.4},{"t":17.1,"r":16.2},{"t":17.4,"r":15.7},{"t":17.7,"r":16.1},{"t":18.0,"r":16.0},{"t":18.3,"r":15.7},{"t":18.6,"r":15.9},{"t":18.9,"r":15.5},{"t":19.2,"r":15.8},{"t":19.5,"r":15.9},{"t":19.8,"r":15.5},{"t":20.1,"r":15.6},{"t":20.4,"r":15.3},{"t":20.7,"r":15.6},{"t":21.0,"r":15.5},{"t":21.3,"r":15.2},{"t":21.6,"r":15.4},{"t":21.9,"r":15.1},{"t":22.2,"r":15.3},{"t":22.5,"r":14.9},{"t":22.8,"r":15.3},{"t":23.1,"r":15.2},{"t":23.4,"r":14.3},{"t":23.7,"r":13.9},{"t":24.0,"r":13.6},{"t":24.3,"r":13.4},{"t":24.6,"r":13.1},{"t":24.9,"r":12.8},{"t":25.2,"r":12.1},{"t":25.5,"r":11.4},{"t":25.8,"r":10.9},{"t":26.1,"r":10.4},{"t":26.4,"r":9.8},{"t":26.7,"r":8.9},{"t":26.9,"r":7.6},{"t":27.05,"r":5.5},{"t":27.2,"r":3.0},{"t":27.3,"r":1.0}],
"r4":[{"t":5.5,"r":6.7},{"t":5.6,"r":9.0},{"t":5.75,"r":11.5},{"t":5.95,"r":13.4},{"t":6.2,"r":14.9},{"t":6.5,"r":15.8},{"t":6.8,"r":16.3},{"t":7.1,"r":16.7},{"t":7.4,"r":17.3},{"t":7.6,"r":17.6},{"t":7.9,"r":16.1},{"t":8.2,"r":14.5},{"t":8.4,"r":14.4},{"t":8.7,"r":15.7},{"t":9.0,"r":16.9},{"t":9.2,"r":15.5},{"t":9.4,"r":13.8},{"t":9.6,"r":12.9},{"t":9.85,"r":14.4},{"t":10.1,"r":15.6},{"t":10.4,"r":14.1},{"t":10.7,"r":15.2},{"t":11.0,"r":16.1},{"t":11.2,"r":16.4},{"t":11.5,"r":14.6},{"t":11.8,"r":15.3},{"t":12.1,"r":15.7},{"t":12.4,"r":14.1},{"t":12.7,"r":15.9},{"t":12.95,"r":14.0},{"t":13.15,"r":12.3},{"t":13.4,"r":14.3},{"t":13.7,"r":15.0},{"t":13.9,"r":14.5},{"t":14.2,"r":16.4},{"t":14.5,"r":14.0},{"t":14.7,"r":13.5},{"t":15.0,"r":15.7},{"t":15.3,"r":14.4},{"t":15.6,"r":14.2},{"t":15.9,"r":15.1},{"t":16.2,"r":13.6},{"t":16.5,"r":15.0},{"t":16.8,"r":14.5},{"t":17.1,"r":14.2},{"t":17.4,"r":15.3},{"t":17.7,"r":14.0},{"t":17.9,"r":13.2},{"t":18.2,"r":14.6},{"t":18.5,"r":14.1},{"t":18.8,"r":13.7},{"t":19.1,"r":15.4},{"t":19.4,"r":13.4},{"t":19.7,"r":14.3},{"t":19.95,"r":13.8},{"t":20.2,"r":12.1},{"t":20.4,"r":10.8},{"t":20.6,"r":12.4},{"t":20.8,"r":14.1},{"t":21.1,"r":13.6},{"t":21.4,"r":14.4},{"t":21.7,"r":13.9},{"t":22.0,"r":13.5},{"t":22.3,"r":13.8},{"t":22.6,"r":13.2},{"t":22.9,"r":13.4},{"t":23.2,"r":12.9},{"t":23.5,"r":12.0},{"t":23.8,"r":11.6},{"t":24.1,"r":11.8},{"t":24.3,"r":12.4},{"t":24.55,"r":11.0},{"t":24.8,"r":10.2},{"t":25.0,"r":8.6},{"t":25.2,"r":6.2},{"t":25.35,"r":4.0},{"t":25.47,"r":1.2}],
"r5":[{"t":6.7,"r":6.7},{"t":6.8,"r":8.8},{"t":6.95,"r":11.0},{"t":7.15,"r":12.6},{"t":7.4,"r":13.7},{"t":7.65,"r":14.9},{"t":7.9,"r":14.0},{"t":8.1,"r":13.2},{"t":8.3,"r":12.5},{"t":8.55,"r":13.8},{"t":8.8,"r":13.2},{"t":9.05,"r":12.4},{"t":9.3,"r":11.4},{"t":9.5,"r":10.4},{"t":9.65,"r":10.0},{"t":9.85,"r":11.6},{"t":10.05,"r":13.2},{"t":10.25,"r":14.0},{"t":10.5,"r":12.7},{"t":10.75,"r":13.3},{"t":11.0,"r":13.8},{"t":11.3,"r":12.9},{"t":11.6,"r":13.5},{"t":11.85,"r":13.9},{"t":12.1,"r":12.9},{"t":12.4,"r":13.2},{"t":12.65,"r":13.7},{"t":12.9,"r":12.6},{"t":13.2,"r":13.3},{"t":13.45,"r":13.9},{"t":13.75,"r":13.8},{"t":14.0,"r":13.1},{"t":14.3,"r":13.6},{"t":14.6,"r":13.4},{"t":14.9,"r":12.8},{"t":15.2,"r":13.3},{"t":15.5,"r":13.5},{"t":15.8,"r":12.9},{"t":16.1,"r":13.2},{"t":16.4,"r":13.5},{"t":16.7,"r":12.7},{"t":17.0,"r":12.9},{"t":17.3,"r":13.2},{"t":17.6,"r":12.5},{"t":17.9,"r":12.8},{"t":18.2,"r":12.4},{"t":18.5,"r":13.4},{"t":18.8,"r":12.6},{"t":19.1,"r":12.3},{"t":19.4,"r":13.0},{"t":19.7,"r":12.6},{"t":20.0,"r":12.4},{"t":20.3,"r":12.9},{"t":20.6,"r":12.6},{"t":20.9,"r":12.2},{"t":21.2,"r":12.5},{"t":21.5,"r":12.8},{"t":21.8,"r":12.3},{"t":22.1,"r":12.5},{"t":22.4,"r":12.4},{"t":22.7,"r":12.1},{"t":23.0,"r":11.5},{"t":23.3,"r":10.7},{"t":23.6,"r":9.8},{"t":23.85,"r":8.8},{"t":24.05,"r":7.2},{"t":24.2,"r":5.5},{"t":24.35,"r":3.6},{"t":24.45,"r":2.3}],
"r6":[{"t":6.9,"r":5.9},{"t":7.0,"r":8.0},{"t":7.15,"r":10.2},{"t":7.35,"r":11.9},{"t":7.55,"r":13.6},{"t":7.7,"r":14.9},{"t":7.9,"r":14.0},{"t":8.1,"r":13.0},{"t":8.3,"r":12.0},{"t":8.5,"r":13.2},{"t":8.65,"r":13.5},{"t":8.9,"r":11.6},{"t":9.1,"r":12.0},{"t":9.3,"r":12.6},{"t":9.5,"r":13.8},{"t":9.7,"r":12.8},{"t":9.9,"r":12.1},{"t":10.1,"r":12.9},{"t":10.35,"r":12.4},{"t":10.6,"r":12.0},{"t":10.85,"r":12.6},{"t":11.1,"r":11.9},{"t":11.35,"r":11.4},{"t":11.6,"r":11.0},{"t":11.85,"r":11.5},{"t":12.1,"r":12.1},{"t":12.4,"r":12.8},{"t":12.7,"r":12.2},{"t":12.95,"r":11.8},{"t":13.2,"r":12.6},{"t":13.45,"r":13.0},{"t":13.7,"r":12.3},{"t":13.95,"r":12.6},{"t":14.2,"r":12.0},{"t":14.5,"r":11.8},{"t":14.75,"r":12.5},{"t":15.0,"r":12.2},{"t":15.25,"r":11.9},{"t":15.5,"r":12.6},{"t":15.75,"r":12.4},{"t":16.0,"r":11.7},{"t":16.25,"r":12.2},{"t":16.5,"r":12.3},{"t":16.75,"r":11.6},{"t":17.0,"r":11.5},{"t":17.25,"r":12.1},{"t":17.5,"r":11.7},{"t":17.75,"r":11.3},{"t":18.0,"r":11.9},{"t":18.25,"r":11.5},{"t":18.5,"r":11.2},{"t":18.75,"r":11.7},{"t":19.0,"r":11.4},{"t":19.25,"r":11.0},{"t":19.5,"r":11.5},{"t":19.75,"r":11.6},{"t":20.0,"r":11.1},{"t":20.25,"r":11.4},{"t":20.5,"r":11.7},{"t":20.75,"r":11.0},{"t":21.0,"r":10.8},{"t":21.25,"r":11.4},{"t":21.5,"r":11.0},{"t":21.75,"r":10.7},{"t":22.0,"r":11.1},{"t":22.25,"r":10.9},{"t":22.5,"r":10.6},{"t":22.75,"r":11.0},{"t":23.0,"r":10.7},{"t":23.2,"r":10.0},{"t":23.4,"r":8.2},{"t":23.55,"r":6.0},{"t":23.7,"r":4.6},{"t":23.85,"r":3.4},{"t":24.0,"r":2.0}],
"wave":[
{"m":1,"c":1,"x":0,"v":0},{"m":1,"c":1,"x":1,"v":-0.02},{"m":1,"c":1,"x":1.5,"v":-0.01},{"m":1,"c":1,"x":2,"v":0},{"m":1,"c":1,"x":2.5,"v":-0.01},{"m":1,"c":1,"x":3,"v":0.02},{"m":1,"c":1,"x":3.5,"v":0.06},{"m":1,"c":1,"x":4,"v":0.02},{"m":1,"c":1,"x":4.5,"v":0},{"m":1,"c":1,"x":5,"v":-0.02},{"m":1,"c":1,"x":5.5,"v":-0.03},{"m":1,"c":1,"x":6,"v":-0.03},{"m":1,"c":1,"x":7,"v":-0.02},{"m":1,"c":1,"x":8.5,"v":-0.01},{"m":1,"c":1,"x":10,"v":0.01,"n":"n= 382"},
{"m":1,"c":2,"x":0,"v":0},{"m":1,"c":2,"x":1,"v":0},{"m":1,"c":2,"x":1.5,"v":-0.01},{"m":1,"c":2,"x":2,"v":-0.02},{"m":1,"c":2,"x":2.5,"v":0},{"m":1,"c":2,"x":3,"v":0.04},{"m":1,"c":2,"x":3.5,"v":0.2},{"m":1,"c":2,"x":4,"v":0.36},{"m":1,"c":2,"x":4.5,"v":0.18},{"m":1,"c":2,"x":5,"v":-0.02},{"m":1,"c":2,"x":5.5,"v":-0.04},{"m":1,"c":2,"x":6,"v":-0.02},{"m":1,"c":2,"x":7,"v":0},{"m":1,"c":2,"x":8.5,"v":0.02},{"m":1,"c":2,"x":10,"v":0.02},
{"m":1,"c":3,"x":0,"v":0},{"m":1,"c":3,"x":1,"v":0.05},{"m":1,"c":3,"x":1.5,"v":0.07},{"m":1,"c":3,"x":2,"v":0.07},{"m":1,"c":3,"x":2.5,"v":0.06},{"m":1,"c":3,"x":3,"v":0},{"m":1,"c":3,"x":3.5,"v":-0.08},{"m":1,"c":3,"x":4,"v":-0.12},{"m":1,"c":3,"x":4.5,"v":-0.02},{"m":1,"c":3,"x":5,"v":0.03},{"m":1,"c":3,"x":5.5,"v":0.02},{"m":1,"c":3,"x":6,"v":0},{"m":1,"c":3,"x":7,"v":0.01},{"m":1,"c":3,"x":8.5,"v":0.01},{"m":1,"c":3,"x":10,"v":0.01},
{"m":1,"c":4,"x":0,"v":0},{"m":1,"c":4,"x":1,"v":-0.03},{"m":1,"c":4,"x":1.5,"v":-0.07},{"m":1,"c":4,"x":2,"v":0.02},{"m":1,"c":4,"x":2.5,"v":0.14},{"m":1,"c":4,"x":3,"v":0.24},{"m":1,"c":4,"x":3.5,"v":0.1},{"m":1,"c":4,"x":4,"v":-0.42},{"m":1,"c":4,"x":4.5,"v":-0.3},{"m":1,"c":4,"x":5,"v":-0.05},{"m":1,"c":4,"x":5.5,"v":0.1},{"m":1,"c":4,"x":6,"v":0.15},{"m":1,"c":4,"x":7,"v":0.1},{"m":1,"c":4,"x":8.5,"v":0.03},{"m":1,"c":4,"x":10,"v":0.02},
{"m":2,"c":1,"x":0,"v":0},{"m":2,"c":1,"x":1,"v":0.03},{"m":2,"c":1,"x":1.5,"v":0.09},{"m":2,"c":1,"x":2,"v":0.11},{"m":2,"c":1,"x":2.5,"v":0.1},{"m":2,"c":1,"x":3,"v":0.08},{"m":2,"c":1,"x":3.5,"v":-0.04},{"m":2,"c":1,"x":4,"v":-0.12},{"m":2,"c":1,"x":4.5,"v":-0.08},{"m":2,"c":1,"x":5,"v":-0.04},{"m":2,"c":1,"x":5.5,"v":-0.02},{"m":2,"c":1,"x":6,"v":-0.01},{"m":2,"c":1,"x":7,"v":0},{"m":2,"c":1,"x":8.5,"v":0},{"m":2,"c":1,"x":10,"v":0,"n":"n= 294"},
{"m":2,"c":2,"x":0,"v":0.01},{"m":2,"c":2,"x":1,"v":0.02},{"m":2,"c":2,"x":1.5,"v":0.02},{"m":2,"c":2,"x":2,"v":0.01},{"m":2,"c":2,"x":2.5,"v":0},{"m":2,"c":2,"x":3,"v":0.02},{"m":2,"c":2,"x":3.5,"v":-0.05},{"m":2,"c":2,"x":4,"v":-0.08},{"m":2,"c":2,"x":4.5,"v":-0.03},{"m":2,"c":2,"x":5,"v":0.02},{"m":2,"c":2,"x":5.5,"v":0.01},{"m":2,"c":2,"x":6,"v":0},{"m":2,"c":2,"x":7,"v":0.01},{"m":2,"c":2,"x":8.5,"v":-0.01},{"m":2,"c":2,"x":10,"v":0.01},
{"m":2,"c":3,"x":0,"v":0},{"m":2,"c":3,"x":1,"v":-0.05},{"m":2,"c":3,"x":1.5,"v":-0.04},{"m":2,"c":3,"x":2,"v":-0.02},{"m":2,"c":3,"x":2.5,"v":-0.05},{"m":2,"c":3,"x":3,"v":-0.02},{"m":2,"c":3,"x":3.5,"v":0.1},{"m":2,"c":3,"x":4,"v":0.16},{"m":2,"c":3,"x":4.5,"v":0.08},{"m":2,"c":3,"x":5,"v":-0.02},{"m":2,"c":3,"x":5.5,"v":-0.04},{"m":2,"c":3,"x":6,"v":-0.02},{"m":2,"c":3,"x":7,"v":0},{"m":2,"c":3,"x":8.5,"v":0},{"m":2,"c":3,"x":10,"v":0},
{"m":2,"c":4,"x":0,"v":0},{"m":2,"c":4,"x":1,"v":0.03},{"m":2,"c":4,"x":1.5,"v":0.04},{"m":2,"c":4,"x":2,"v":0.05},{"m":2,"c":4,"x":2.5,"v":0.03},{"m":2,"c":4,"x":3,"v":0.1},{"m":2,"c":4,"x":3.5,"v":-0.02},{"m":2,"c":4,"x":4,"v":-0.12},{"m":2,"c":4,"x":4.5,"v":-0.05},{"m":2,"c":4,"x":5,"v":0.03},{"m":2,"c":4,"x":5.5,"v":0.03},{"m":2,"c":4,"x":6,"v":0.02},{"m":2,"c":4,"x":7,"v":0.01},{"m":2,"c":4,"x":8.5,"v":-0.01},{"m":2,"c":4,"x":10,"v":0},
{"m":3,"c":1,"x":0,"v":0},{"m":3,"c":1,"x":1,"v":0.04},{"m":3,"c":1,"x":1.5,"v":0.07},{"m":3,"c":1,"x":2,"v":0.1},{"m":3,"c":1,"x":2.5,"v":0.12},{"m":3,"c":1,"x":3,"v":0.05},{"m":3,"c":1,"x":3.5,"v":-0.15},{"m":3,"c":1,"x":4,"v":-0.3},{"m":3,"c":1,"x":4.5,"v":-0.22},{"m":3,"c":1,"x":5,"v":-0.05},{"m":3,"c":1,"x":5.5,"v":0.05},{"m":3,"c":1,"x":6,"v":0.04},{"m":3,"c":1,"x":7,"v":0.02},{"m":3,"c":1,"x":8.5,"v":0},{"m":3,"c":1,"x":10,"v":0,"n":"n= 337"},
{"m":3,"c":2,"x":0,"v":0},{"m":3,"c":2,"x":1,"v":0},{"m":3,"c":2,"x":1.5,"v":0.01},{"m":3,"c":2,"x":2,"v":0.01},{"m":3,"c":2,"x":2.5,"v":0},{"m":3,"c":2,"x":3,"v":0.02},{"m":3,"c":2,"x":3.5,"v":-0.08},{"m":3,"c":2,"x":4,"v":-0.18},{"m":3,"c":2,"x":4.5,"v":-0.05},{"m":3,"c":2,"x":5,"v":0.03},{"m":3,"c":2,"x":5.5,"v":0.02},{"m":3,"c":2,"x":6,"v":0},{"m":3,"c":2,"x":7,"v":0},{"m":3,"c":2,"x":8.5,"v":0},{"m":3,"c":2,"x":10,"v":0},
{"m":3,"c":3,"x":0,"v":0},{"m":3,"c":3,"x":1,"v":-0.02},{"m":3,"c":3,"x":1.5,"v":-0.04},{"m":3,"c":3,"x":2,"v":-0.05},{"m":3,"c":3,"x":2.5,"v":-0.04},{"m":3,"c":3,"x":3,"v":0},{"m":3,"c":3,"x":3.5,"v":0.2},{"m":3,"c":3,"x":4,"v":0.38},{"m":3,"c":3,"x":4.5,"v":0.2},{"m":3,"c":3,"x":5,"v":-0.02},{"m":3,"c":3,"x":5.5,"v":-0.06},{"m":3,"c":3,"x":6,"v":-0.04},{"m":3,"c":3,"x":7,"v":-0.01},{"m":3,"c":3,"x":8.5,"v":0},{"m":3,"c":3,"x":10,"v":0},
{"m":3,"c":4,"x":0,"v":0},{"m":3,"c":4,"x":1,"v":-0.05},{"m":3,"c":4,"x":1.5,"v":-0.08},{"m":3,"c":4,"x":2,"v":-0.1},{"m":3,"c":4,"x":2.5,"v":-0.05},{"m":3,"c":4,"x":3,"v":0.02},{"m":3,"c":4,"x":3.5,"v":-0.1},{"m":3,"c":4,"x":4,"v":-0.12},{"m":3,"c":4,"x":4.5,"v":0},{"m":3,"c":4,"x":5,"v":0.08},{"m":3,"c":4,"x":5.5,"v":0.05},{"m":3,"c":4,"x":6,"v":0},{"m":3,"c":4,"x":7,"v":-0.02},{"m":3,"c":4,"x":8.5,"v":0},{"m":3,"c":4,"x":10,"v":0},
{"m":4,"c":1,"x":0,"v":0.05},{"m":4,"c":1,"x":1,"v":0.1},{"m":4,"c":1,"x":1.5,"v":0.13},{"m":4,"c":1,"x":2,"v":0.1},{"m":4,"c":1,"x":2.5,"v":0.04},{"m":4,"c":1,"x":3,"v":-0.05},{"m":4,"c":1,"x":3.5,"v":-0.12},{"m":4,"c":1,"x":4,"v":-0.18},{"m":4,"c":1,"x":4.5,"v":-0.12},{"m":4,"c":1,"x":5,"v":-0.02},{"m":4,"c":1,"x":5.5,"v":0.05},{"m":4,"c":1,"x":6,"v":0.06},{"m":4,"c":1,"x":7,"v":0.03},{"m":4,"c":1,"x":8.5,"v":0.02},{"m":4,"c":1,"x":10,"v":0.02,"n":"n= 276"},
{"m":4,"c":2,"x":0,"v":0},{"m":4,"c":2,"x":1,"v":0.02},{"m":4,"c":2,"x":1.5,"v":0.03},{"m":4,"c":2,"x":2,"v":0.03},{"m":4,"c":2,"x":2.5,"v":0},{"m":4,"c":2,"x":3,"v":-0.05},{"m":4,"c":2,"x":3.5,"v":-0.08},{"m":4,"c":2,"x":4,"v":-0.05},{"m":4,"c":2,"x":4.5,"v":0},{"m":4,"c":2,"x":5,"v":0.02},{"m":4,"c":2,"x":5.5,"v":0.01},{"m":4,"c":2,"x":6,"v":0},{"m":4,"c":2,"x":7,"v":0},{"m":4,"c":2,"x":8.5,"v":0.01},{"m":4,"c":2,"x":10,"v":0.02},
{"m":4,"c":3,"x":0,"v":0},{"m":4,"c":3,"x":1,"v":0},{"m":4,"c":3,"x":1.5,"v":-0.01},{"m":4,"c":3,"x":2,"v":-0.02},{"m":4,"c":3,"x":2.5,"v":-0.03},{"m":4,"c":3,"x":3,"v":0.03},{"m":4,"c":3,"x":3.5,"v":0.04},{"m":4,"c":3,"x":4,"v":0},{"m":4,"c":3,"x":4.5,"v":0.03},{"m":4,"c":3,"x":5,"v":0.06},{"m":4,"c":3,"x":5.5,"v":0.05},{"m":4,"c":3,"x":6,"v":0.02},{"m":4,"c":3,"x":7,"v":0.01},{"m":4,"c":3,"x":8.5,"v":0},{"m":4,"c":3,"x":10,"v":0},
{"m":4,"c":4,"x":0,"v":0.05},{"m":4,"c":4,"x":1,"v":0},{"m":4,"c":4,"x":1.5,"v":-0.1},{"m":4,"c":4,"x":2,"v":-0.12},{"m":4,"c":4,"x":2.5,"v":-0.05},{"m":4,"c":4,"x":3,"v":0.08},{"m":4,"c":4,"x":3.5,"v":0.12},{"m":4,"c":4,"x":4,"v":0.1},{"m":4,"c":4,"x":4.5,"v":-0.02},{"m":4,"c":4,"x":5,"v":-0.05},{"m":4,"c":4,"x":5.5,"v":-0.02},{"m":4,"c":4,"x":6,"v":0.02},{"m":4,"c":4,"x":7,"v":0.03},{"m":4,"c":4,"x":8.5,"v":0.01},{"m":4,"c":4,"x":10,"v":0.01},
{"m":5,"c":1,"x":0,"v":0},{"m":5,"c":1,"x":1,"v":-0.03},{"m":5,"c":1,"x":1.5,"v":-0.01},{"m":5,"c":1,"x":2,"v":0.02},{"m":5,"c":1,"x":2.5,"v":0.05},{"m":5,"c":1,"x":3,"v":0.12},{"m":5,"c":1,"x":3.5,"v":0.18},{"m":5,"c":1,"x":4,"v":0.15},{"m":5,"c":1,"x":4.5,"v":0.02},{"m":5,"c":1,"x":5,"v":-0.08},{"m":5,"c":1,"x":5.5,"v":-0.05},{"m":5,"c":1,"x":6,"v":-0.02},{"m":5,"c":1,"x":7,"v":0},{"m":5,"c":1,"x":8.5,"v":0.01},{"m":5,"c":1,"x":10,"v":0,"n":"n= 216"},
{"m":5,"c":2,"x":0,"v":0},{"m":5,"c":2,"x":1,"v":0},{"m":5,"c":2,"x":1.5,"v":0},{"m":5,"c":2,"x":2,"v":0},{"m":5,"c":2,"x":2.5,"v":0.02},{"m":5,"c":2,"x":3,"v":0.04},{"m":5,"c":2,"x":3.5,"v":0.06},{"m":5,"c":2,"x":4,"v":0.1},{"m":5,"c":2,"x":4.5,"v":0.14},{"m":5,"c":2,"x":5,"v":0.15},{"m":5,"c":2,"x":5.5,"v":0.1},{"m":5,"c":2,"x":6,"v":0.04},{"m":5,"c":2,"x":7,"v":-0.02},{"m":5,"c":2,"x":8.5,"v":0.01},{"m":5,"c":2,"x":10,"v":0.02},
{"m":5,"c":3,"x":0,"v":0},{"m":5,"c":3,"x":1,"v":0},{"m":5,"c":3,"x":1.5,"v":-0.03},{"m":5,"c":3,"x":2,"v":-0.05},{"m":5,"c":3,"x":2.5,"v":-0.06},{"m":5,"c":3,"x":3,"v":0.02},{"m":5,"c":3,"x":3.5,"v":0.05},{"m":5,"c":3,"x":4,"v":0},{"m":5,"c":3,"x":4.5,"v":-0.03},{"m":5,"c":3,"x":5,"v":0.05},{"m":5,"c":3,"x":5.5,"v":0.04},{"m":5,"c":3,"x":6,"v":0.02},{"m":5,"c":3,"x":7,"v":0.01},{"m":5,"c":3,"x":8.5,"v":0.01},{"m":5,"c":3,"x":10,"v":0},
{"m":5,"c":4,"x":0,"v":0},{"m":5,"c":4,"x":1,"v":0},{"m":5,"c":4,"x":1.5,"v":0.02},{"m":5,"c":4,"x":2,"v":0.05},{"m":5,"c":4,"x":2.5,"v":0.15},{"m":5,"c":4,"x":3,"v":0.2},{"m":5,"c":4,"x":3.5,"v":0.1},{"m":5,"c":4,"x":4,"v":-0.2},{"m":5,"c":4,"x":4.5,"v":-0.2},{"m":5,"c":4,"x":5,"v":-0.08},{"m":5,"c":4,"x":5.5,"v":0.03},{"m":5,"c":4,"x":6,"v":0.08},{"m":5,"c":4,"x":7,"v":0.06},{"m":5,"c":4,"x":8.5,"v":0.01},{"m":5,"c":4,"x":10,"v":0},
{"m":6,"c":1,"x":0,"v":0},{"m":6,"c":1,"x":1,"v":0.03},{"m":6,"c":1,"x":1.5,"v":0.08},{"m":6,"c":1,"x":2,"v":0.15},{"m":6,"c":1,"x":2.5,"v":0.25},{"m":6,"c":1,"x":3,"v":0.15},{"m":6,"c":1,"x":3.5,"v":-0.05},{"m":6,"c":1,"x":4,"v":-0.2},{"m":6,"c":1,"x":4.5,"v":-0.12},{"m":6,"c":1,"x":5,"v":0.02},{"m":6,"c":1,"x":5.5,"v":0.05},{"m":6,"c":1,"x":6,"v":0.03},{"m":6,"c":1,"x":7,"v":-0.01},{"m":6,"c":1,"x":8.5,"v":0},{"m":6,"c":1,"x":10,"v":0.02,"n":"n= 198","ch":"Ch 1"},
{"m":6,"c":2,"x":0,"v":0},{"m":6,"c":2,"x":1,"v":0.02},{"m":6,"c":2,"x":1.5,"v":0.05},{"m":6,"c":2,"x":2,"v":0.08},{"m":6,"c":2,"x":2.5,"v":0.12},{"m":6,"c":2,"x":3,"v":0.15},{"m":6,"c":2,"x":3.5,"v":0.06},{"m":6,"c":2,"x":4,"v":-0.03},{"m":6,"c":2,"x":4.5,"v":-0.05},{"m":6,"c":2,"x":5,"v":0.03},{"m":6,"c":2,"x":5.5,"v":0.02},{"m":6,"c":2,"x":6,"v":-0.02},{"m":6,"c":2,"x":7,"v":0},{"m":6,"c":2,"x":8.5,"v":0.01},{"m":6,"c":2,"x":10,"v":0.02,"ch":"Ch 2"},
{"m":6,"c":3,"x":0,"v":0.03},{"m":6,"c":3,"x":1,"v":0},{"m":6,"c":3,"x":1.5,"v":-0.03},{"m":6,"c":3,"x":2,"v":-0.05},{"m":6,"c":3,"x":2.5,"v":0.02},{"m":6,"c":3,"x":3,"v":0.05},{"m":6,"c":3,"x":3.5,"v":-0.02},{"m":6,"c":3,"x":4,"v":-0.12},{"m":6,"c":3,"x":4.5,"v":-0.08},{"m":6,"c":3,"x":5,"v":0.05},{"m":6,"c":3,"x":5.5,"v":0.1},{"m":6,"c":3,"x":6,"v":0.13},{"m":6,"c":3,"x":7,"v":0.06},{"m":6,"c":3,"x":8.5,"v":0},{"m":6,"c":3,"x":10,"v":0,"ch":"Ch 3"},
{"m":6,"c":4,"x":0,"v":0.05},{"m":6,"c":4,"x":1,"v":0.05},{"m":6,"c":4,"x":1.5,"v":-0.05},{"m":6,"c":4,"x":2,"v":-0.2},{"m":6,"c":4,"x":2.5,"v":-0.38},{"m":6,"c":4,"x":3,"v":-0.35},{"m":6,"c":4,"x":3.5,"v":0.05},{"m":6,"c":4,"x":4,"v":0.42},{"m":6,"c":4,"x":4.5,"v":0.3},{"m":6,"c":4,"x":5,"v":0.05},{"m":6,"c":4,"x":5.5,"v":-0.03},{"m":6,"c":4,"x":6,"v":0.02},{"m":6,"c":4,"x":7,"v":0.02},{"m":6,"c":4,"x":8.5,"v":0},{"m":6,"c":4,"x":10,"v":0,"ch":"Ch 4"}
]},
"spacing":14,
"resolve":{"scale":{"color":"independent"}},
"vconcat":[
{"spacing":17,"resolve":{"scale":{"color":"independent"}},"vconcat":[
{"width":946,"height":352,"resolve":{"scale":{"y":"independent"}},"layer":[
{"layer":[
{"data":{"name":"s1"},"mark":{"type":"rule","color":"#0000ff","strokeWidth":3},"encoding":{"x":{"field":"t","type":"quantitative","scale":{"domain":[0,30],"nice":false,"zero":false},"title":null,"axis":{"values":[0,5,10,15,20,25,30]}},"y":{"datum":0.74,"type":"quantitative","scale":{"domain":[0.763,6.729],"nice":false,"zero":false},"axis":null},"y2":{"datum":1.26}}},
{"data":{"name":"s2"},"mark":{"type":"rule","color":"#008000","strokeWidth":3},"encoding":{"x":{"field":"t","type":"quantitative","title":null},"y":{"datum":1.74,"type":"quantitative","scale":{"domain":[0.763,6.729],"nice":false,"zero":false},"axis":null},"y2":{"datum":2.26}}},
{"data":{"name":"s3"},"mark":{"type":"rule","color":"#ff0000","strokeWidth":3},"encoding":{"x":{"field":"t","type":"quantitative","title":null},"y":{"datum":2.74,"type":"quantitative","scale":{"domain":[0.763,6.729],"nice":false,"zero":false},"axis":null},"y2":{"datum":3.26}}},
{"data":{"name":"s4"},"mark":{"type":"rule","color":"#00bfbf","strokeWidth":3},"encoding":{"x":{"field":"t","type":"quantitative","title":null},"y":{"datum":3.74,"type":"quantitative","scale":{"domain":[0.763,6.729],"nice":false,"zero":false},"axis":null},"y2":{"datum":4.26}}},
{"data":{"name":"s5"},"mark":{"type":"rule","color":"#bf00bf","strokeWidth":3},"encoding":{"x":{"field":"t","type":"quantitative","title":null},"y":{"datum":4.74,"type":"quantitative","scale":{"domain":[0.763,6.729],"nice":false,"zero":false},"axis":null},"y2":{"datum":5.26}}},
{"data":{"name":"s6"},"mark":{"type":"rule","color":"#f58a1f","strokeWidth":3},"encoding":{"x":{"field":"t","type":"quantitative","title":null},"y":{"datum":5.74,"type":"quantitative","scale":{"domain":[0.763,6.729],"nice":false,"zero":false},"axis":null},"y2":{"datum":6.26}}},
{"data":{"values":[{"s":"MU 1"}]},"mark":{"type":"text","color":"#0000ff","fontSize":23,"align":"left","baseline":"middle"},"encoding":{"text":{"field":"s"},"x":{"datum":0.6,"type":"quantitative"},"y":{"datum":1.38,"type":"quantitative","axis":null}}},
{"data":{"values":[{"s":"MU 2"}]},"mark":{"type":"text","color":"#008000","fontSize":23,"align":"left","baseline":"middle"},"encoding":{"text":{"field":"s"},"x":{"datum":0.6,"type":"quantitative"},"y":{"datum":2.38,"type":"quantitative","axis":null}}},
{"data":{"values":[{"s":"MU 3"}]},"mark":{"type":"text","color":"#ff0000","fontSize":23,"align":"left","baseline":"middle"},"encoding":{"text":{"field":"s"},"x":{"datum":0.6,"type":"quantitative"},"y":{"datum":3.38,"type":"quantitative","axis":null}}},
{"data":{"values":[{"s":"MU 4"}]},"mark":{"type":"text","color":"#00bfbf","fontSize":23,"align":"left","baseline":"middle"},"encoding":{"text":{"field":"s"},"x":{"datum":0.6,"type":"quantitative"},"y":{"datum":4.38,"type":"quantitative","axis":null}}},
{"data":{"values":[{"s":"MU 5"}]},"mark":{"type":"text","color":"#bf00bf","fontSize":23,"align":"left","baseline":"middle"},"encoding":{"text":{"field":"s"},"x":{"datum":0.6,"type":"quantitative"},"y":{"datum":5.38,"type":"quantitative","axis":null}}},
{"data":{"values":[{"s":"MU 6"}]},"mark":{"type":"text","color":"#f58a1f","fontSize":23,"align":"left","baseline":"middle"},"encoding":{"text":{"field":"s"},"x":{"datum":0.6,"type":"quantitative"},"y":{"datum":6.38,"type":"quantitative","axis":null}}}
]},
{"layer":[
{"data":{"name":"force"},"mark":{"type":"line","color":"#000","strokeWidth":2.2},"encoding":{"x":{"field":"t","type":"quantitative","title":null},"y":{"field":"f","type":"quantitative","scale":{"domain":[0,50],"nice":false,"zero":false},"title":"Force (%MVC)","axis":{"orient":"right","values":[0,25,50],"titleAngle":270,"titleBaseline":"top","titleFontSize":31,"titlePadding":5}}}},
{"data":{"name":"rec"},"mark":{"type":"point","shape":"circle","filled":false,"size":130,"strokeWidth":2,"opacity":1},"encoding":{"x":{"field":"t","type":"quantitative","title":null},"y":{"field":"f","type":"quantitative"},"color":{"field":"m","type":"nominal","scale":{"domain":["MU 1","MU 2","MU 3","MU 4","MU 5","MU 6"],"range":["#0000ff","#008000","#ff0000","#00bfbf","#bf00bf","#f58a1f"]},"legend":null}}},
{"data":{"name":"rec"},"mark":{"type":"point","shape":"M-1,0L1,0M0.3,-0.6L1,0L0.3,0.6","filled":false,"size":600,"strokeWidth":2,"opacity":1},"encoding":{"x":{"datum":29.62,"type":"quantitative"},"y":{"field":"f","type":"quantitative"},"color":{"field":"m","type":"nominal","scale":{"domain":["MU 1","MU 2","MU 3","MU 4","MU 5","MU 6"],"range":["#0000ff","#008000","#ff0000","#00bfbf","#bf00bf","#f58a1f"]},"legend":null}}},
{"data":{"values":[{"s":"A"}]},"mark":{"type":"text","fontSize":27,"align":"left","baseline":"alphabetic","color":"#000"},"encoding":{"text":{"field":"s"},"x":{"datum":-2.68,"type":"quantitative"},"y":{"datum":47.9,"type":"quantitative"}}}
]}
]},
{"width":946,"height":352,"resolve":{"scale":{"y":"independent"}},"layer":[
{"layer":[
{"data":{"name":"s1"},"mark":{"type":"circle","color":"#0000ff","size":32,"opacity":1},"encoding":{"x":{"field":"t","type":"quantitative","scale":{"domain":[0,30],"nice":false,"zero":false},"title":null,"axis":{"values":[0,5,10,15,20,25,30]}},"y":{"field":"i","type":"quantitative","scale":{"domain":[0,1200],"nice":false,"zero":false},"title":"Inter Pulse Interval (ms)","axis":{"orient":"left","values":[100,200],"titlePadding":15}}}},
{"mark":{"type":"rule","color":"#333","strokeWidth":1.3},"encoding":{"y":{"datum":200,"type":"quantitative"}}},
{"data":{"values":[{"s":"MU 1"}]},"mark":{"type":"text","color":"#0000ff","fontSize":23,"align":"left","baseline":"middle"},"encoding":{"text":{"field":"s"},"x":{"datum":0.6,"type":"quantitative"},"y":{"datum":136,"type":"quantitative"}}}
]},
{"layer":[
{"data":{"name":"s2"},"mark":{"type":"circle","color":"#008000","size":32,"opacity":1},"encoding":{"x":{"field":"t","type":"quantitative","title":null},"y":{"field":"i","type":"quantitative","scale":{"domain":[-200,1000],"nice":false,"zero":false},"title":null,"axis":{"orient":"left","values":[100,200]}}}},
{"mark":{"type":"rule","color":"#333","strokeWidth":1.3},"encoding":{"y":{"datum":200,"type":"quantitative"}}},
{"data":{"values":[{"s":"MU 2"}]},"mark":{"type":"text","color":"#008000","fontSize":23,"align":"left","baseline":"middle"},"encoding":{"text":{"field":"s"},"x":{"datum":0.6,"type":"quantitative"},"y":{"datum":136,"type":"quantitative"}}}
]},
{"layer":[
{"data":{"name":"s3"},"mark":{"type":"circle","color":"#ff0000","size":32,"opacity":1},"encoding":{"x":{"field":"t","type":"quantitative","title":null},"y":{"field":"i","type":"quantitative","scale":{"domain":[-400,800],"nice":false,"zero":false},"title":null,"axis":{"orient":"left","values":[100,200]}}}},
{"mark":{"type":"rule","color":"#333","strokeWidth":1.3},"encoding":{"y":{"datum":200,"type":"quantitative"}}},
{"data":{"values":[{"s":"MU 3"}]},"mark":{"type":"text","color":"#ff0000","fontSize":23,"align":"left","baseline":"middle"},"encoding":{"text":{"field":"s"},"x":{"datum":0.6,"type":"quantitative"},"y":{"datum":136,"type":"quantitative"}}}
]},
{"layer":[
{"data":{"name":"s4"},"mark":{"type":"circle","color":"#00bfbf","size":32,"opacity":1},"encoding":{"x":{"field":"t","type":"quantitative","title":null},"y":{"field":"i","type":"quantitative","scale":{"domain":[-600,600],"nice":false,"zero":false},"title":null,"axis":{"orient":"left","values":[100,200]}}}},
{"mark":{"type":"rule","color":"#333","strokeWidth":1.3},"encoding":{"y":{"datum":200,"type":"quantitative"}}},
{"data":{"values":[{"s":"MU 4"}]},"mark":{"type":"text","color":"#00bfbf","fontSize":23,"align":"left","baseline":"middle"},"encoding":{"text":{"field":"s"},"x":{"datum":0.6,"type":"quantitative"},"y":{"datum":136,"type":"quantitative"}}}
]},
{"layer":[
{"data":{"name":"s5"},"mark":{"type":"circle","color":"#bf00bf","size":32,"opacity":1},"encoding":{"x":{"field":"t","type":"quantitative","title":null},"y":{"field":"i","type":"quantitative","scale":{"domain":[-800,400],"nice":false,"zero":false},"title":null,"axis":{"orient":"left","values":[100,200]}}}},
{"mark":{"type":"rule","color":"#333","strokeWidth":1.3},"encoding":{"y":{"datum":200,"type":"quantitative"}}},
{"data":{"values":[{"s":"MU 5"}]},"mark":{"type":"text","color":"#bf00bf","fontSize":23,"align":"left","baseline":"middle"},"encoding":{"text":{"field":"s"},"x":{"datum":0.6,"type":"quantitative"},"y":{"datum":136,"type":"quantitative"}}}
]},
{"layer":[
{"data":{"name":"s6"},"mark":{"type":"circle","color":"#f58a1f","size":32,"opacity":1},"encoding":{"x":{"field":"t","type":"quantitative","title":null},"y":{"field":"i","type":"quantitative","scale":{"domain":[-1000,200],"nice":false,"zero":false},"title":null,"axis":{"orient":"left","values":[100,200]}}}},
{"data":{"values":[{"s":"MU 6"}]},"mark":{"type":"text","color":"#f58a1f","fontSize":23,"align":"left","baseline":"middle"},"encoding":{"text":{"field":"s"},"x":{"datum":0.6,"type":"quantitative"},"y":{"datum":136,"type":"quantitative"}}}
]},
{"layer":[
{"data":{"name":"force"},"mark":{"type":"line","color":"#000","strokeWidth":2.2},"encoding":{"x":{"field":"t","type":"quantitative","title":null},"y":{"field":"f","type":"quantitative","scale":{"domain":[0,50],"nice":false,"zero":false},"title":"Force (%MVC)","axis":{"orient":"right","values":[0,25,50],"titleAngle":270,"titleBaseline":"top","titleFontSize":31,"titlePadding":5}}}},
{"data":{"values":[{"s":"B"}]},"mark":{"type":"text","fontSize":27,"align":"left","baseline":"alphabetic","color":"#000"},"encoding":{"text":{"field":"s"},"x":{"datum":-2.68,"type":"quantitative"},"y":{"datum":48.7,"type":"quantitative"}}}
]}
]}
]},
{"spacing":-10,"resolve":{"scale":{"color":"independent"}},"vconcat":[
{"width":946,"height":353,"resolve":{"scale":{"y":"independent"}},"layer":[
{"layer":[
{"data":{"name":"r1"},"mark":{"type":"line","strokeWidth":1.5},"encoding":{"x":{"field":"t","type":"quantitative","scale":{"domain":[0,30],"nice":false,"zero":false},"title":"Time (s)","axis":{"values":[0,5,10,15,20,25,30],"titleFontSize":30,"titlePadding":22}},"y":{"field":"r","type":"quantitative","scale":{"domain":[0,25],"nice":false,"zero":false},"title":"Mean Firing Rate (pps)","axis":{"orient":"left","values":[0,5,10,15,20,25],"titlePadding":26}},"color":{"datum":"MU 1","type":"nominal","scale":{"domain":["MU 1","MU 2","MU 3","MU 4","MU 5","MU 6"],"range":["#3030e8","#2a8a2a","#ef3030","#30c8c8","#c030c8","#f39c4a"]},"legend":{"title":null,"orient":"none","legendX":827,"legendY":12,"labelFontSize":20,"symbolType":"M-1.6,0L1.6,0","symbolSize":625,"symbolStrokeWidth":1.6,"rowPadding":1,"labelOffset":16}}}},
{"data":{"name":"r2"},"mark":{"type":"line","strokeWidth":1.5},"encoding":{"x":{"field":"t","type":"quantitative","title":"Time (s)"},"y":{"field":"r","type":"quantitative"},"color":{"datum":"MU 2","type":"nominal"}}},
{"data":{"name":"r3"},"mark":{"type":"line","strokeWidth":1.5},"encoding":{"x":{"field":"t","type":"quantitative","title":"Time (s)"},"y":{"field":"r","type":"quantitative"},"color":{"datum":"MU 3","type":"nominal"}}},
{"data":{"name":"r4"},"mark":{"type":"line","strokeWidth":1.5},"encoding":{"x":{"field":"t","type":"quantitative","title":"Time (s)"},"y":{"field":"r","type":"quantitative"},"color":{"datum":"MU 4","type":"nominal"}}},
{"data":{"name":"r5"},"mark":{"type":"line","strokeWidth":1.5},"encoding":{"x":{"field":"t","type":"quantitative","title":"Time (s)"},"y":{"field":"r","type":"quantitative"},"color":{"datum":"MU 5","type":"nominal"}}},
{"data":{"name":"r6"},"mark":{"type":"line","strokeWidth":1.5},"encoding":{"x":{"field":"t","type":"quantitative","title":"Time (s)"},"y":{"field":"r","type":"quantitative"},"color":{"datum":"MU 6","type":"nominal"}}},
{"data":{"values":[{"s":"C"}]},"mark":{"type":"text","fontSize":27,"align":"left","baseline":"alphabetic","color":"#000"},"encoding":{"text":{"field":"s"},"x":{"datum":-2.68,"type":"quantitative"},"y":{"datum":24.4,"type":"quantitative"}}},
{"data":{"values":[{"s":"D"}]},"mark":{"type":"text","fontSize":27,"align":"left","baseline":"alphabetic","color":"#000"},"encoding":{"text":{"field":"s"},"x":{"datum":-2.68,"type":"quantitative"},"y":{"datum":-5.6,"type":"quantitative"}}}
]},
{"layer":[
{"data":{"name":"force"},"mark":{"type":"line","color":"#000","strokeWidth":2.2},"encoding":{"x":{"field":"t","type":"quantitative","title":"Time (s)"},"y":{"field":"f","type":"quantitative","scale":{"domain":[0,50],"nice":false,"zero":false},"title":"Force (%MVC)","axis":{"orient":"right","values":[0,25,50],"titleAngle":270,"titleBaseline":"top","titleFontSize":31,"titlePadding":5}}}}
]}
]},
{"data":{"name":"wave"},
"align":{"row":"all","column":"each"},
"facet":{
"row":{"field":"c","type":"ordinal","title":"EMG Amplitude (mV)","header":{"labels":false,"titleOrient":"left","titleFontSize":28,"titleFontWeight":"normal","titlePadding":-8}},
"column":{"field":"m","type":"ordinal","title":null,"header":{"labelExpr":"'MU ' + datum.value","labelAnchor":"start","labelAlign":"left","labelFontSize":20,"labelPadding":-5}}},
"spacing":{"row":5,"column":26},
"spec":{"width":123,"height":53,"view":{"stroke":"#333","strokeWidth":1.2},
"encoding":{"x":{"field":"x","type":"quantitative","scale":{"domain":[0,10],"nice":false},"title":"(ms)","axis":{"values":[0,5,10],"tickSize":-4,"labelPadding":3,"titleFontSize":23,"titlePadding":-2}},
"y":{"field":"v","type":"quantitative","scale":{"domain":[-0.6,0.6],"nice":false,"zero":false},"title":null,"axis":{"values":[-0.5,0,0.5],"tickSize":-4,"labelPadding":10,"labelFontSize":18,"labelExpr":"datum.value == 0 ? '0' : (datum.value < 0 ? '-' : '') + format(abs(datum.value), '.1f')"}}},
"layer":[
{"mark":{"type":"line","interpolate":"monotone","strokeDash":[4,2],"color":"#555","strokeWidth":0.9,"yOffset":-3.5}},
{"mark":{"type":"line","interpolate":"monotone","strokeDash":[4,2],"color":"#555","strokeWidth":0.9,"yOffset":3.5}},
{"mark":{"type":"line","interpolate":"monotone","strokeWidth":3},"encoding":{"color":{"field":"m","type":"nominal","scale":{"domain":[1,2,3,4,5,6],"range":["#1a2ee6","#2a962a","#e82020","#40c8c8","#ff20ff","#f07a30"]},"legend":null}}},
{"transform":[{"filter":"isValid(datum.n)"}],"mark":{"type":"text","align":"right","baseline":"bottom","fontSize":19,"dx":-2,"color":"#000"},"encoding":{"text":{"field":"n"},"y":{"datum":-0.6,"type":"quantitative"}}},
{"transform":[{"filter":"isValid(datum.ch)"}],"mark":{"type":"text","align":"left","baseline":"middle","fontSize":22,"dx":17,"color":"#000"},"encoding":{"text":{"field":"ch"},"y":{"datum":0,"type":"quantitative"}}}
]}}
]}
]
}
